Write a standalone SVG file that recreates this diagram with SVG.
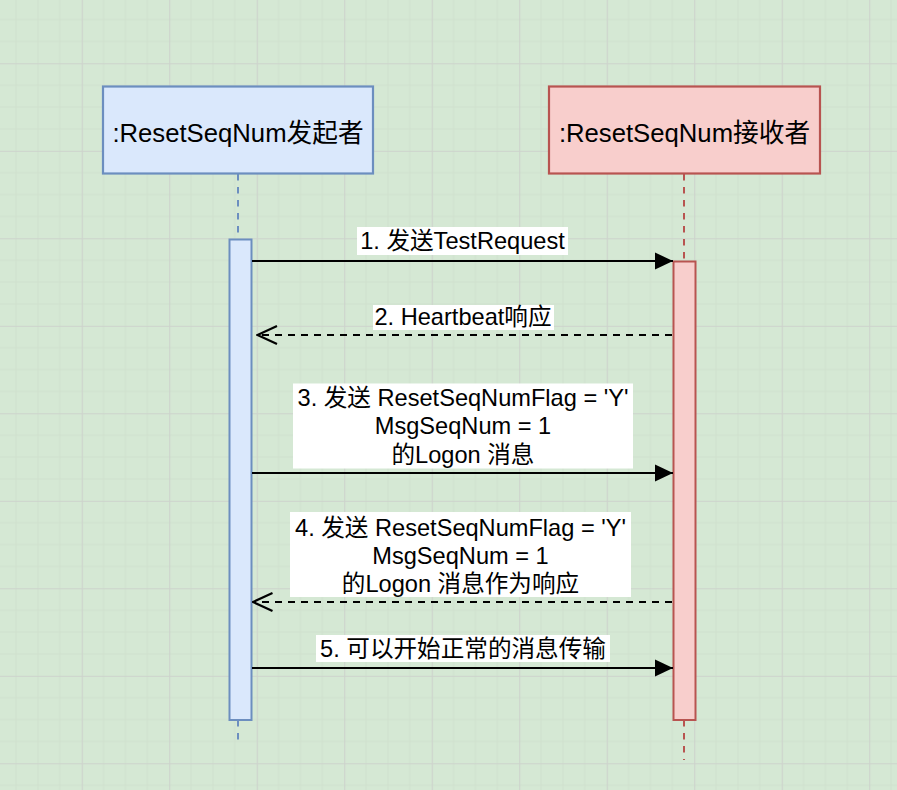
<svg xmlns="http://www.w3.org/2000/svg" width="897" height="790" viewBox="0 0 897 790">
<style>
.t{font-family:"Liberation Sans","Noto Sans CJK SC",sans-serif;fill:#000;text-anchor:middle}
.lbl{font-size:23.6px}
.ttl{font-size:25.7px}
.lbg{fill:#fff}
.msg{stroke:#000;stroke-width:2.2;fill:none}
.dash{stroke-dasharray:7 6}
</style>
<defs>
<pattern id="grid" patternUnits="userSpaceOnUse" x="-5.8" y="-24.2" width="87.5" height="87.5">
<rect width="87.5" height="87.5" fill="#d5e8d4"/>
<path d="M21.875 0V87.5M43.75 0V87.5M65.625 0V87.5M0 21.875H87.5M0 43.75H87.5M0 65.625H87.5" stroke="#d0e1ce" stroke-width="1" fill="none"/>
<path d="M0.5 0V87.5M0 0.5H87.5" stroke="#cdd3cc" stroke-width="1.2" fill="none"/>
</pattern>
<marker id="fill" markerUnits="userSpaceOnUse" markerWidth="20" markerHeight="20" viewBox="0 0 20 20" refX="18" refY="10" orient="auto">
<path d="M0 1.5L18 10L0 18.5Z" fill="#000"/>
</marker>
<marker id="open" markerUnits="userSpaceOnUse" markerWidth="24" markerHeight="24" viewBox="0 0 24 24" refX="22.5" refY="12" orient="auto">
<path d="M3 3L22.5 12L3 21" fill="none" stroke="#000" stroke-width="2.2"/>
</marker>
</defs>
<rect width="897" height="790" fill="url(#grid)"/>

<g id="lifelines">
<line x1="238" y1="174" x2="238" y2="745" stroke="#6c8ebf" stroke-width="2" stroke-dasharray="6.5 6.5"/>
<line x1="684" y1="174" x2="684" y2="760" stroke="#b85450" stroke-width="2" stroke-dasharray="6.5 6.5"/>
</g>

<g id="initiator">
<rect x="103" y="86.5" width="270" height="87" fill="#dae8fc" stroke="#6c8ebf" stroke-width="2.2"/>
<text class="t ttl" x="238" y="142">:ResetSeqNum发起者</text>
</g>
<g id="receiver">
<rect x="549" y="86.5" width="271" height="87" fill="#f8cecc" stroke="#b85450" stroke-width="2.2"/>
<text class="t ttl" x="684.5" y="142">:ResetSeqNum接收者</text>
</g>

<g id="activation-initiator">
<rect x="229.5" y="239.5" width="22" height="480.5" fill="#dae8fc" stroke="#6c8ebf" stroke-width="2"/>
</g>
<g id="activation-receiver">
<rect x="673.5" y="261.5" width="22" height="458.5" fill="#f8cecc" stroke="#b85450" stroke-width="2"/>
</g>

<g id="connectors">
<line class="msg" x1="252" y1="261" x2="673" y2="261" marker-end="url(#fill)"/>
<line class="msg dash" x1="672" y1="335" x2="257.5" y2="335" marker-end="url(#open)"/>
<line class="msg" x1="252" y1="473" x2="673" y2="473" marker-end="url(#fill)"/>
<line class="msg dash" x1="672" y1="602" x2="253" y2="602" marker-end="url(#open)"/>
<line class="msg" x1="252" y1="668" x2="673" y2="668" marker-end="url(#fill)"/>

<rect class="lbg" x="357" y="227" width="211" height="28"/>
<text class="t lbl" x="462.5" y="249">1. 发送TestRequest</text>

<rect class="lbg" x="373" y="305" width="181" height="25"/>
<text class="t lbl" x="463" y="325">2. Heartbeat响应</text>

<rect class="lbg" x="293" y="383.5" width="340" height="85"/>
<text class="t lbl" x="463" y="406">3. 发送 ResetSeqNumFlag = 'Y'</text>
<text class="t lbl" x="463" y="434">MsgSeqNum = 1</text>
<text class="t lbl" x="463" y="462.5">的Logon 消息</text>

<rect class="lbg" x="290" y="512" width="341" height="85"/>
<text class="t lbl" x="460.5" y="535.5">4. 发送 ResetSeqNumFlag = 'Y'</text>
<text class="t lbl" x="460.5" y="563.5">MsgSeqNum = 1</text>
<text class="t lbl" x="460.5" y="591.5">的Logon 消息作为响应</text>

<rect class="lbg" x="316" y="635" width="294" height="27"/>
<text class="t lbl" x="463" y="657">5. 可以开始正常的消息传输</text>
</g>
</svg>
